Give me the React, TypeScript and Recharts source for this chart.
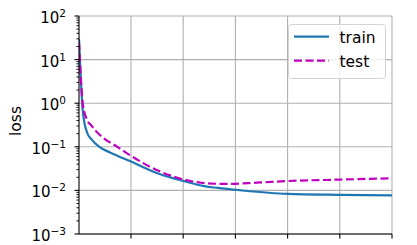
import React from "react";
import { LineChart, Line, XAxis, YAxis, CartesianGrid, Legend } from "recharts";

// values (log y-axis)
const trainEpochs = [1, 20, 40, 60, 100, 150, 250, 390, 500, 600, 665, 770, 1000, 1250, 1500];
const trainLoss = [30, 0.6, 0.21, 0.15, 0.098, 0.074, 0.046, 0.0234, 0.0165, 0.0125, 0.0114, 0.0101, 0.0083, 0.0079, 0.0077];
const testEpochs = [1, 20, 40, 60, 80, 120, 185, 250, 390, 500, 585, 700, 850, 1000, 1250, 1500];
const testLoss = [25, 0.9, 0.41, 0.31, 0.235, 0.157, 0.1, 0.062, 0.027, 0.018, 0.015, 0.0141, 0.015, 0.0164, 0.0177, 0.0189];

const xTicks = [250, 500, 750, 1000, 1250, 1500];
const yMajorTicks = [0.001, 0.01, 0.1, 1, 10, 100];
const minorSteps = [2, 3, 4, 5, 6, 7, 8, 9];
const yAllTicks = [
  ...yMajorTicks,
  ...yMajorTicks.slice(0, -1).flatMap((d) => minorSteps.map((k) => d * k)),
].sort((a, b) => a - b);

const trainData = trainEpochs.map((epoch, i) => ({ epoch, loss: trainLoss[i] }));
const testData = testEpochs.map((epoch, i) => ({ epoch, loss: testLoss[i] }));

const FONT = "DejaVu Sans";
const TRAIN_COLOR = "#1f77b4";
const TEST_COLOR = "#bf00bf";

const YTick = (props: any) => {
  const { x, y, payload } = props;
  const lg = Math.log10(payload.value);
  const exp = Math.round(lg);
  const major = Math.abs(lg - exp) < 1e-6;
  if (!major) {
    return <line x1={x - 2.6} x2={x} y1={y} y2={y} stroke="#000" strokeWidth={0.9} />;
  }
  return (
    <g>
      <line x1={x - 4.5} x2={x} y1={y} y2={y} stroke="#000" strokeWidth={1.1} />
      <text x={x - 13} y={y + 7} textAnchor="end" fontSize={15} fontFamily={FONT} fill="#000">
        10
        <tspan dy={-6} fontSize={10.5}>
          {exp < 0 ? `\u2212${-exp}` : `${exp}`}
        </tspan>
      </text>
    </g>
  );
};

const XTick = () => <g />;

const YLabel = () => (
  <text
    x={21}
    y={121}
    transform="rotate(-90 21 121)"
    textAnchor="middle"
    fontSize={15.5}
    fontFamily={FONT}
    fill="#000"
  >
    loss
  </text>
);

const LegendBox = () => (
  <svg width={98} height={55} style={{ display: "block" }}>
    <rect x={0.5} y={0.5} width={97} height={54} rx={3} fill="rgba(255,255,255,0.8)" stroke="#d4d4d4" />
    <line x1={6} x2={41} y1={12.7} y2={12.7} stroke={TRAIN_COLOR} strokeWidth={2.2} />
    <text x={51.5} y={19} fontSize={15.5} fontFamily={FONT} fill="#000">
      train
    </text>
    <line x1={6} x2={41} y1={36.7} y2={36.7} stroke={TEST_COLOR} strokeWidth={2.2} strokeDasharray="8 3.5" />
    <text x={51.5} y={42.5} fontSize={15.5} fontFamily={FONT} fill="#000">
      test
    </text>
  </svg>
);

export default function App() {
  return (
    <div style={{ position: "absolute", left: 0, top: 0, width: 417, height: 245, background: "#fff" }}>
      <LineChart width={417} height={245} margin={{ top: 16, right: 25, bottom: 0, left: 0 }}>
        <CartesianGrid
          horizontalValues={yMajorTicks}
          verticalValues={xTicks}
          stroke="#b0b0b0"
          strokeWidth={1.1}
        />
        <XAxis
          dataKey="epoch"
          type="number"
          domain={[1, 1500]}
          ticks={xTicks}
          allowDataOverflow
          height={11}
          tick={<XTick />}
          tickSize={4.5}
          tickLine={{ stroke: "#000", strokeWidth: 1.1 }}
          axisLine={{ stroke: "#000", strokeWidth: 1.1 }}
        />
        <XAxis
          xAxisId="top"
          orientation="top"
          type="number"
          domain={[1, 1500]}
          height={0}
          tick={false}
          tickLine={false}
          axisLine={{ stroke: "#000", strokeWidth: 1.1 }}
        />
        <YAxis
          type="number"
          scale="log"
          domain={[0.001, 100]}
          allowDataOverflow
          ticks={yAllTicks}
          interval={0}
          width={79}
          tickSize={0}
          tickMargin={0}
          tickLine={false}
          tick={<YTick />}
          axisLine={{ stroke: "#000", strokeWidth: 1.1 }}
          label={<YLabel />}
        />
        <YAxis
          yAxisId="right"
          orientation="right"
          type="number"
          width={0}
          tick={false}
          tickLine={false}
          axisLine={{ stroke: "#000", strokeWidth: 1.1 }}
        />
        <Legend
          layout="horizontal"
          verticalAlign="middle"
          align="center"
          content={<LegendBox />}
          wrapperStyle={{ position: "absolute", left: 288, top: 24, width: 98, height: 55, margin: 0, padding: 0 }}
        />
        <Line
          data={trainData}
          dataKey="loss"
          name="train"
          type="monotone"
          stroke={TRAIN_COLOR}
          strokeWidth={2.2}
          dot={false}
          isAnimationActive={false}
        />
        <Line
          data={testData}
          dataKey="loss"
          name="test"
          type="monotone"
          stroke={TEST_COLOR}
          strokeWidth={2.2}
          strokeDasharray="8 3.5"
          dot={false}
          isAnimationActive={false}
        />
      </LineChart>
    </div>
  );
}
